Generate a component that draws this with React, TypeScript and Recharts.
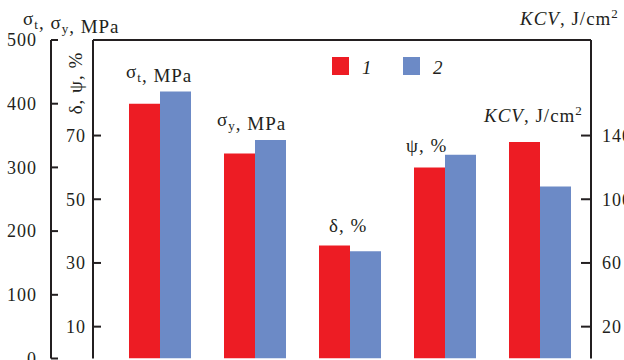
import React from "react";
import { BarChart, Bar, XAxis, YAxis, ReferenceLine } from "recharts";

// property groups, each one read on its own axis
// axis ids sort so that "inner" (%, next to the frame) comes before "outer" (MPa)
const categories = ["σt", "σy", "δ", "ψ", "KCV"];
const axisOf = ["outer", "outer", "inner", "inner", "right"];
const seriesNames = ["1", "2"];
const steel1 = [400, 322, 35.5, 60, 136];
const steel2 = [419, 343, 33.7, 64, 108];

const mpaTicks = [0, 100, 200, 300, 400, 500];
const pctTicks = [10, 30, 50, 70];
const kcvTicks = [20, 60, 100, 140];

const RED = "#ED1C24";
const BLUE = "#6C8AC6";
const INK = "#231F20";
const FONT = "Liberation Serif, DejaVu Serif, serif";

const data = categories.map((cat, i) => ({
  cat,
  [`r_${axisOf[i]}`]: steel1[i],
  [`b_${axisOf[i]}`]: steel2[i],
}));

const tickStyle = { fontSize: 18, fill: INK, style: { fontFamily: FONT, letterSpacing: 1 } };
const line = { stroke: INK, strokeWidth: 2 };

function Sub({ children }: { children: string }) {
  return (
    <>
      <tspan fontSize={13} dy={4}>{children}</tspan>
      <tspan dy={-4}>{""}</tspan>
    </>
  );
}

export default function App() {
  const axes = ["outer", "inner", "right"];
  return (
    <div style={{ position: "absolute", left: 0, top: 0, width: 624, height: 360, overflow: "hidden", background: "#fff", fontFamily: FONT }}>
      <BarChart
        width={624}
        height={360}
        data={data}
        margin={{ top: 40, right: 0, bottom: 1.5, left: 0 }}
        barGap={0}
        barSize={31}
      >
        <XAxis dataKey="cat" height={0} tick={false} tickLine={false} axisLine={line} padding={{ left: 19, right: 4 }} />
        <YAxis
          yAxisId="inner"
          width={42}
          domain={[0, 100]}
          ticks={pctTicks}
          interval={0}
          allowDataOverflow
          tickSize={-8}
          tickMargin={15}
          axisLine={line}
          tickLine={line}
          tick={tickStyle}
        />
        <YAxis
          yAxisId="outer"
          width={51}
          domain={[0, 500]}
          ticks={mpaTicks}
          interval={0}
          allowDataOverflow
          tickSize={-7}
          tickMargin={21}
          axisLine={line}
          tickLine={line}
          tick={tickStyle}
        />
        <YAxis
          yAxisId="right"
          orientation="right"
          width={33}
          domain={[0, 200]}
          ticks={kcvTicks}
          interval={0}
          allowDataOverflow
          tickSize={-10}
          tickMargin={21}
          axisLine={line}
          tickLine={line}
          tick={tickStyle}
        />
        <ReferenceLine yAxisId="inner" y={100} stroke={INK} strokeWidth={2} />
        {axes.map((ax) => (
          <Bar key={`r_${ax}`} dataKey={`r_${ax}`} yAxisId={ax} stackId="r" fill={RED} isAnimationActive={false} />
        ))}
        {axes.map((ax) => (
          <Bar key={`b_${ax}`} dataKey={`b_${ax}`} yAxisId={ax} stackId="b" fill={BLUE} isAnimationActive={false} />
        ))}
      </BarChart>

      <svg
        width={624}
        height={360}
        style={{ position: "absolute", left: 0, top: 0, pointerEvents: "none", fontFamily: FONT, letterSpacing: 1 }}
        fontSize={19}
        fill={INK}
      >
        <text x={23} y={25}>
          σ<Sub>t</Sub>, σ<Sub>y</Sub>, MPa
        </text>
        <text x={520} y={25}>
          <tspan fontStyle="italic">KCV</tspan>, J/cm<tspan fontSize={13} dy={-7}>2</tspan>
        </text>
        <text x={82} y={83} textAnchor="middle" transform="rotate(-90 82 83)">
          δ, ψ, %
        </text>

        <text x={126} y={78}>
          σ<Sub>t</Sub>, MPa
        </text>
        <text x={217} y={126}>
          σ<Sub>y</Sub>, MPa
        </text>
        <text x={329} y={232}>δ, %</text>
        <text x={406} y={152}>ψ, %</text>
        <text x={484} y={122}>
          <tspan fontStyle="italic">KCV</tspan>, J/cm<tspan fontSize={13} dy={-7}>2</tspan>
        </text>

        {seriesNames.map((name, i) => (
          <g key={name}>
            <rect x={332 + i * 71} y={57} width={17} height={18} fill={i === 0 ? RED : BLUE} />
            <text x={362 + i * 71} y={74} fontStyle="italic">
              {name}
            </text>
          </g>
        ))}
      </svg>
    </div>
  );
}
